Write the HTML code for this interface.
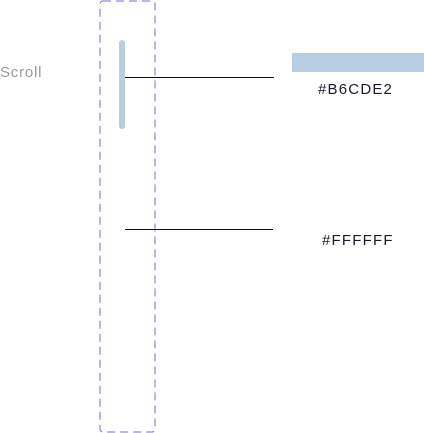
<!DOCTYPE html>
<html><head><style>
html,body{margin:0;padding:0;width:424px;height:433px;background:#fff;overflow:hidden;position:relative;font-family:"Liberation Sans",sans-serif}
.t{position:absolute;white-space:nowrap;line-height:1}
</style></head><body>
<svg width="424" height="433" style="position:absolute;left:0;top:0">
<rect x="100" y="1" width="55" height="431" rx="3" fill="none" stroke="#7B61FF" stroke-width="1" stroke-dasharray="8,5"/>
<rect x="119" y="40" width="6" height="89" rx="3" fill="#B6CDE2"/>
<line x1="125" y1="77.5" x2="274" y2="77.5" stroke="#111" stroke-width="1"/>
<line x1="125" y1="229.5" x2="273" y2="229.5" stroke="#111" stroke-width="1"/>
<rect x="292" y="53" width="132" height="19" fill="#B6CDE2"/>
</svg>
<div class="t" style="left:0;top:65px;font-size:15px;color:#9a9a9a;letter-spacing:0.8px">Scroll</div>
<div class="t" style="left:318px;top:82px;font-size:15px;color:#1a1a2a;letter-spacing:1.2px">#B6CDE2</div>
<div class="t" style="left:322px;top:233px;font-size:15px;color:#1a1a2a;letter-spacing:1.2px">#FFFFFF</div>
</body></html>
